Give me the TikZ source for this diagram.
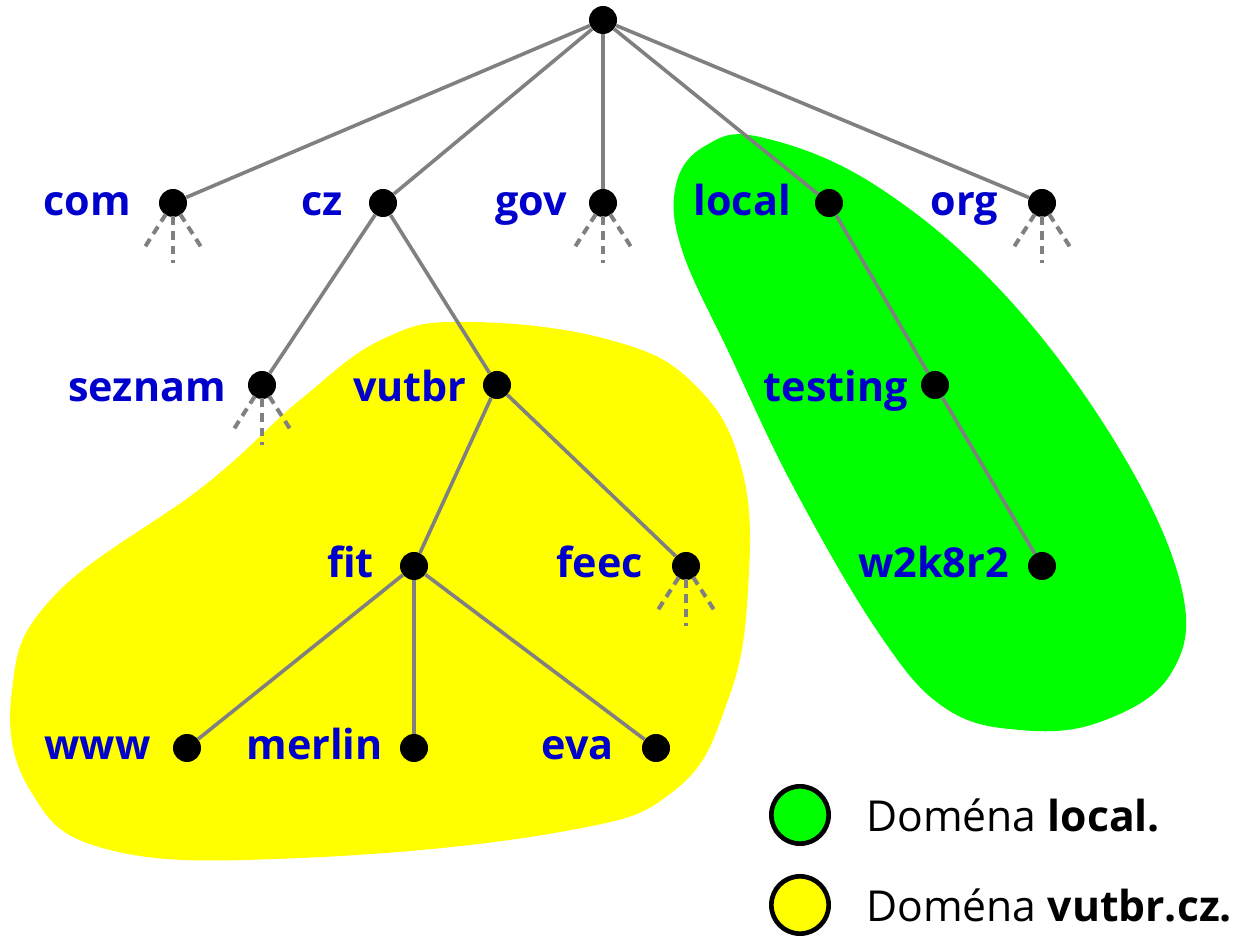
\documentclass[tikz,border=0pt]{standalone}
\usepackage{fontspec}
\setmainfont{Open Sans}
\usetikzlibrary{calc,positioning}

\definecolor{lblblue}{RGB}{0,0,204}
\definecolor{edgegray}{RGB}{128,128,128}
\definecolor{localgreen}{RGB}{0,255,0}
\definecolor{vutyellow}{RGB}{255,255,0}

\begin{document}
\begin{tikzpicture}[
  x=0.75pt, y=-0.75pt,
  dot/.style={circle, fill=black, inner sep=0pt, minimum size=21pt},
  edge/.style={draw=edgegray, line width=2.7pt},
  stub/.style={draw=edgegray, line width=3pt, dash pattern=on 6.5pt off 4.5pt, shorten <=10pt},
  lbl/.style={anchor=base east, inner sep=0pt, text=lblblue, font=\fontsize{31}{36}\selectfont\bfseries},
  legdot/.style={circle, draw=black, line width=3.5pt, minimum size=43pt, inner sep=0pt},
  legtext/.style={anchor=base west, inner sep=0pt, font=\fontsize{32}{38}\selectfont},
]
  \useasboundingbox (0,0) rectangle (1233,937);

  % domain areas
  \fill[vutyellow] plot[smooth cycle, tension=0.7] coordinates {
    (470,322) (610,340) (695,385) (742,470) (748,590) (728,700)
    (675,790) (560,832) (300,858) (110,850) (30,790) (12,690)
    (55,595) (205,485) (300,400) (385,338)};
  \fill[localgreen] plot[smooth cycle, tension=0.65] coordinates {
    (760,137) (875,185) (1005,295) (1120,450) (1182,590)
    (1170,675) (1100,722) (1020,730) (945,708) (880,635)
    (795,490) (730,355) (682,250) (676,185) (705,146)};

  % tree nodes
  \node[dot] (root) at (603,20) {};
  \node[dot] (com) at (173,203) {};
  \node[dot] (cz) at (383,203) {};
  \node[dot] (gov) at (603,203) {};
  \node[dot] (local) at (829,203) {};
  \node[dot] (org) at (1042,203) {};
  \node[dot] (seznam) at (262,385) {};
  \node[dot] (vutbr) at (497,385) {};
  \node[dot] (testing) at (935,385) {};
  \node[dot] (fit) at (414,566) {};
  \node[dot] (feec) at (686,566) {};
  \node[dot] (w2k8r2) at (1042,566) {};
  \node[dot] (www) at (187,748) {};
  \node[dot] (merlin) at (414,748) {};
  \node[dot] (eva) at (656,748) {};

  % labels
  \node[lbl] (comlbl) at (131,216) {com};
  \node[lbl] (czlbl) at (343,216) {cz};
  \node[lbl] (govlbl) at (567,216) {gov};
  \node[lbl] (locallbl) at (791,216) {local};
  \node[lbl] (orglbl) at (998,216) {org};
  \node[lbl] (seznamlbl) at (226,402) {seznam};
  \node[lbl] (vutbrlbl) at (467,402) {vutbr};
  \node[lbl] (testinglbl) at (908,402) {testing};
  \node[lbl] (fitlbl) at (374,578) {fit};
  \node[lbl] (feeclbl) at (643,578) {feec};
  \node[lbl] (w2k8r2lbl) at (1009,578) {w2k8r2};
  \node[lbl] (wwwlbl) at (151,760) {www};
  \node[lbl] (merlinlbl) at (383,760) {merlin};
  \node[lbl] (evalbl) at (614,760) {eva};

  % edges
  \foreach \child in {com,cz,gov,local,org}
    \draw[edge] (root) -- (\child);
  \draw[edge] (cz) -- (seznam);
  \draw[edge] (cz) -- (vutbr);
  \draw[edge] (vutbr) -- (fit);
  \draw[edge] (vutbr) -- (feec);
  \draw[edge] (fit) -- (www);
  \draw[edge] (fit) -- (merlin);
  \draw[edge] (fit) -- (eva);
  \draw[edge] (local) -- (testing);
  \draw[edge] (testing) -- (w2k8r2);

  % unexpanded subtrees
  \foreach \n in {com,gov,org,seznam,feec} {
    \draw[stub] (\n.center) -- ++(-30,47);
    \draw[stub] (\n.center) -- ++(0,60);
    \draw[stub] (\n.center) -- ++(30,47);
  }

  % legend
  \node[legdot, fill=localgreen] (leglocal) at (800,815) {};
  \node[legdot, fill=vutyellow] (legvutbr) at (800,905) {};
  \node[legtext] (leglocaltxt) at (866,832) {Doména \textbf{local.}};
  \node[legtext] (legvutbrtxt) at (866,922) {Doména \textbf{vutbr.cz.}};
\end{tikzpicture}
\end{document}
